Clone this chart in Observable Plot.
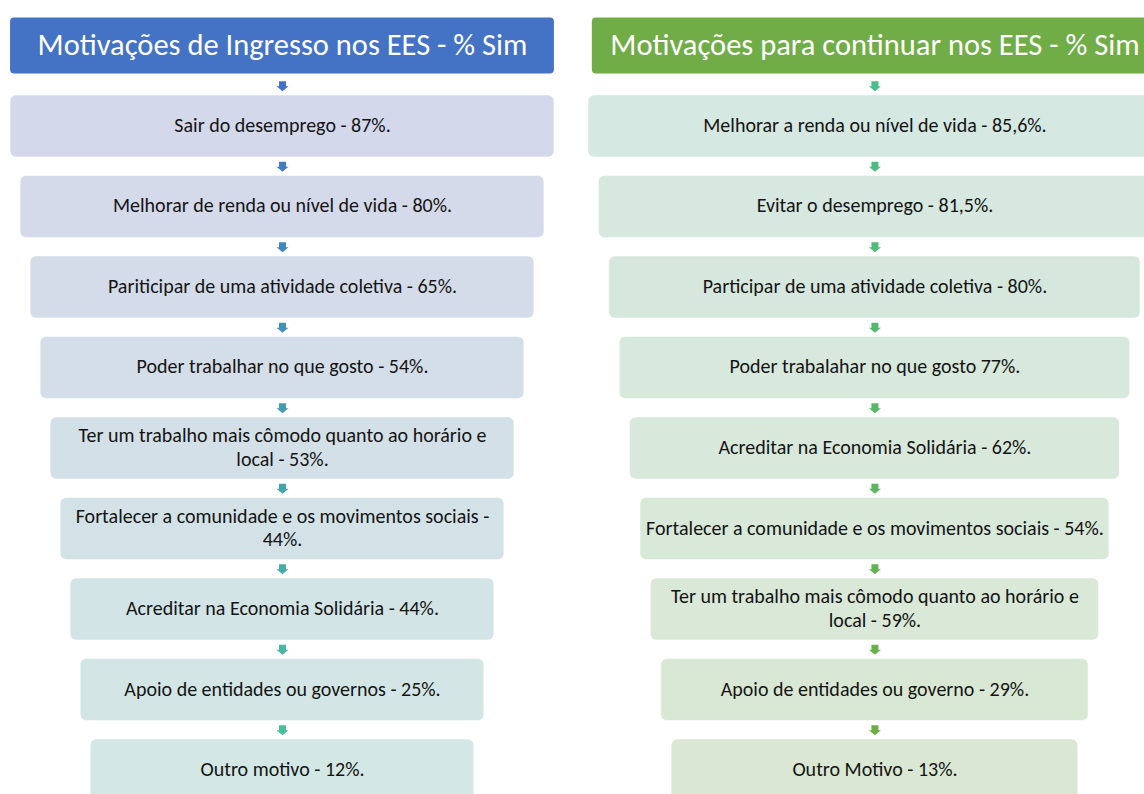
<!DOCTYPE html>
<html>
<head>
<meta charset="utf-8">
<script src="https://cdn.jsdelivr.net/npm/d3@7"></script>
<script src="https://cdn.jsdelivr.net/npm/@observablehq/plot@0.6"></script>
<style>
  html, body { margin: 0; padding: 0; background: #ffffff; }
  #chart { width: 1144px; height: 794px; overflow: hidden; }
</style>
</head>
<body>
<div id="chart"></div>
<script>
// ---------------- DATA ----------------
const leftTitle = "Motivações de Ingresso nos EES - % Sim";
const leftLabels = [
  "Sair do desemprego - ",
  "Melhorar de renda ou nível de vida - ",
  "Pariticipar de uma atividade coletiva - ",
  "Poder trabalhar no que gosto - ",
  "Ter um trabalho mais cômodo quanto ao horário e\nlocal - ",
  "Fortalecer a comunidade e os movimentos sociais -\n",
  "Acreditar na Economia Solidária - ",
  "Apoio de entidades ou governos - ",
  "Outro motivo - "
];
const leftValues = [87, 80, 65, 54, 53, 44, 44, 25, 12];

const rightTitle = "Motivações para continuar nos EES - % Sim";
const rightLabels = [
  "Melhorar a renda ou nível de vida - ",
  "Evitar o desemprego - ",
  "Participar de uma atividade coletiva - ",
  "Poder trabalahar no que gosto ",
  "Acreditar na Economia Solidária - ",
  "Fortalecer a comunidade e os movimentos sociais - ",
  "Ter um trabalho mais cômodo quanto ao horário e\nlocal - ",
  "Apoio de entidades ou governo - ",
  "Outro Motivo - "
];
const rightValues = [85.6, 81.5, 80, 77, 62, 54, 59, 29, 13];

// ---------------- LAYOUT / STYLE ----------------
const W = 1144, H = 794;
const fmt = v => String(v).replace(".", ",");
const columns = [
  {col: 0, title: leftTitle, labels: leftLabels, values: leftValues,
   titleFill: "#4472c4", titleHalf: 0.459, half0: 0.459, halfStep: 0.0169,
   boxTop: "#d4d8eb", boxBottom: "#d3e8e4", arrowTop: "#4472c4", arrowBottom: "#49c09c"},
  {col: 1, title: rightTitle, labels: rightLabels, values: rightValues,
   titleFill: "#70ad47", titleHalf: 0.477, half0: 0.4835, halfStep: 0.01755,
   boxTop: "#d5e8e2", boxBottom: "#dae8d3", arrowTop: "#4abd8c", arrowBottom: "#6cae45"}
];

const boxes = [], arrows = [], titles = [];
for (const c of columns) {
  titles.push({col: c.col, text: c.title, half: c.titleHalf, fill: c.titleFill, row: 0});
  const n = c.values.length;
  c.values.forEach((v, i) => {
    const t = i / (n - 1);
    boxes.push({
      col: c.col, row: i + 1,
      text: c.labels[i] + fmt(v) + "%.",
      half: c.half0 - c.halfStep * i,
      fill: d3.interpolateRgb(c.boxTop, c.boxBottom)(t)
    });
    arrows.push({
      col: c.col, row: i + 0.5,
      fill: d3.interpolateRgb(c.arrowTop, c.arrowBottom)(t)
    });
  });
}

const arrowSymbol = {
  draw(ctx) {
    ctx.moveTo(-3.5, -5);
    ctx.lineTo(3.5, -5);
    ctx.lineTo(3.5, 0);
    ctx.lineTo(6, 0);
    ctx.lineTo(0, 5);
    ctx.lineTo(-6, 0);
    ctx.lineTo(-3.5, 0);
    ctx.closePath();
  }
};

const FONT = "Calibri, Carlito, Lato, 'Open Sans', sans-serif";
const boxHalfH = 0.385, titleHalfH = 0.348;

const chart = Plot.plot({
  width: W,
  height: H,
  margin: 0,
  style: {background: "#ffffff", fontFamily: FONT},
  x: {domain: [-0.476, 1.455], axis: null},
  y: {domain: [-0.565, 9.298], reverse: true, axis: null},
  color: {type: "identity"},
  marks: [
    Plot.rect(titles, {
      x1: d => d.col - d.half, x2: d => d.col + d.half,
      y1: d => d.row - titleHalfH, y2: d => d.row + titleHalfH,
      fill: "fill", rx: 4
    }),
    Plot.text(titles, {
      x: "col", y: "row", text: "text", dy: -1,
      fill: "#ffffff", fontSize: 30.5, fontFamily: FONT
    }),
    Plot.rect(boxes, {
      x1: d => d.col - d.half, x2: d => d.col + d.half,
      y1: d => d.row - boxHalfH, y2: d => d.row + boxHalfH,
      fill: "fill", stroke: "#ffffff", strokeOpacity: 0.5, strokeWidth: 1, rx: 6
    }),
    Plot.text(boxes, {
      x: "col", y: "row", text: "text", dy: -2,
      fill: "#141414", fontSize: 20, lineHeight: 1.17, fontFamily: FONT
    }),
    Plot.dot(arrows, {
      x: "col", y: "row", fill: "fill", stroke: null, symbol: arrowSymbol, r: 5
    })
  ]
});

document.getElementById("chart").appendChild(chart);
</script>
</body>
</html>
